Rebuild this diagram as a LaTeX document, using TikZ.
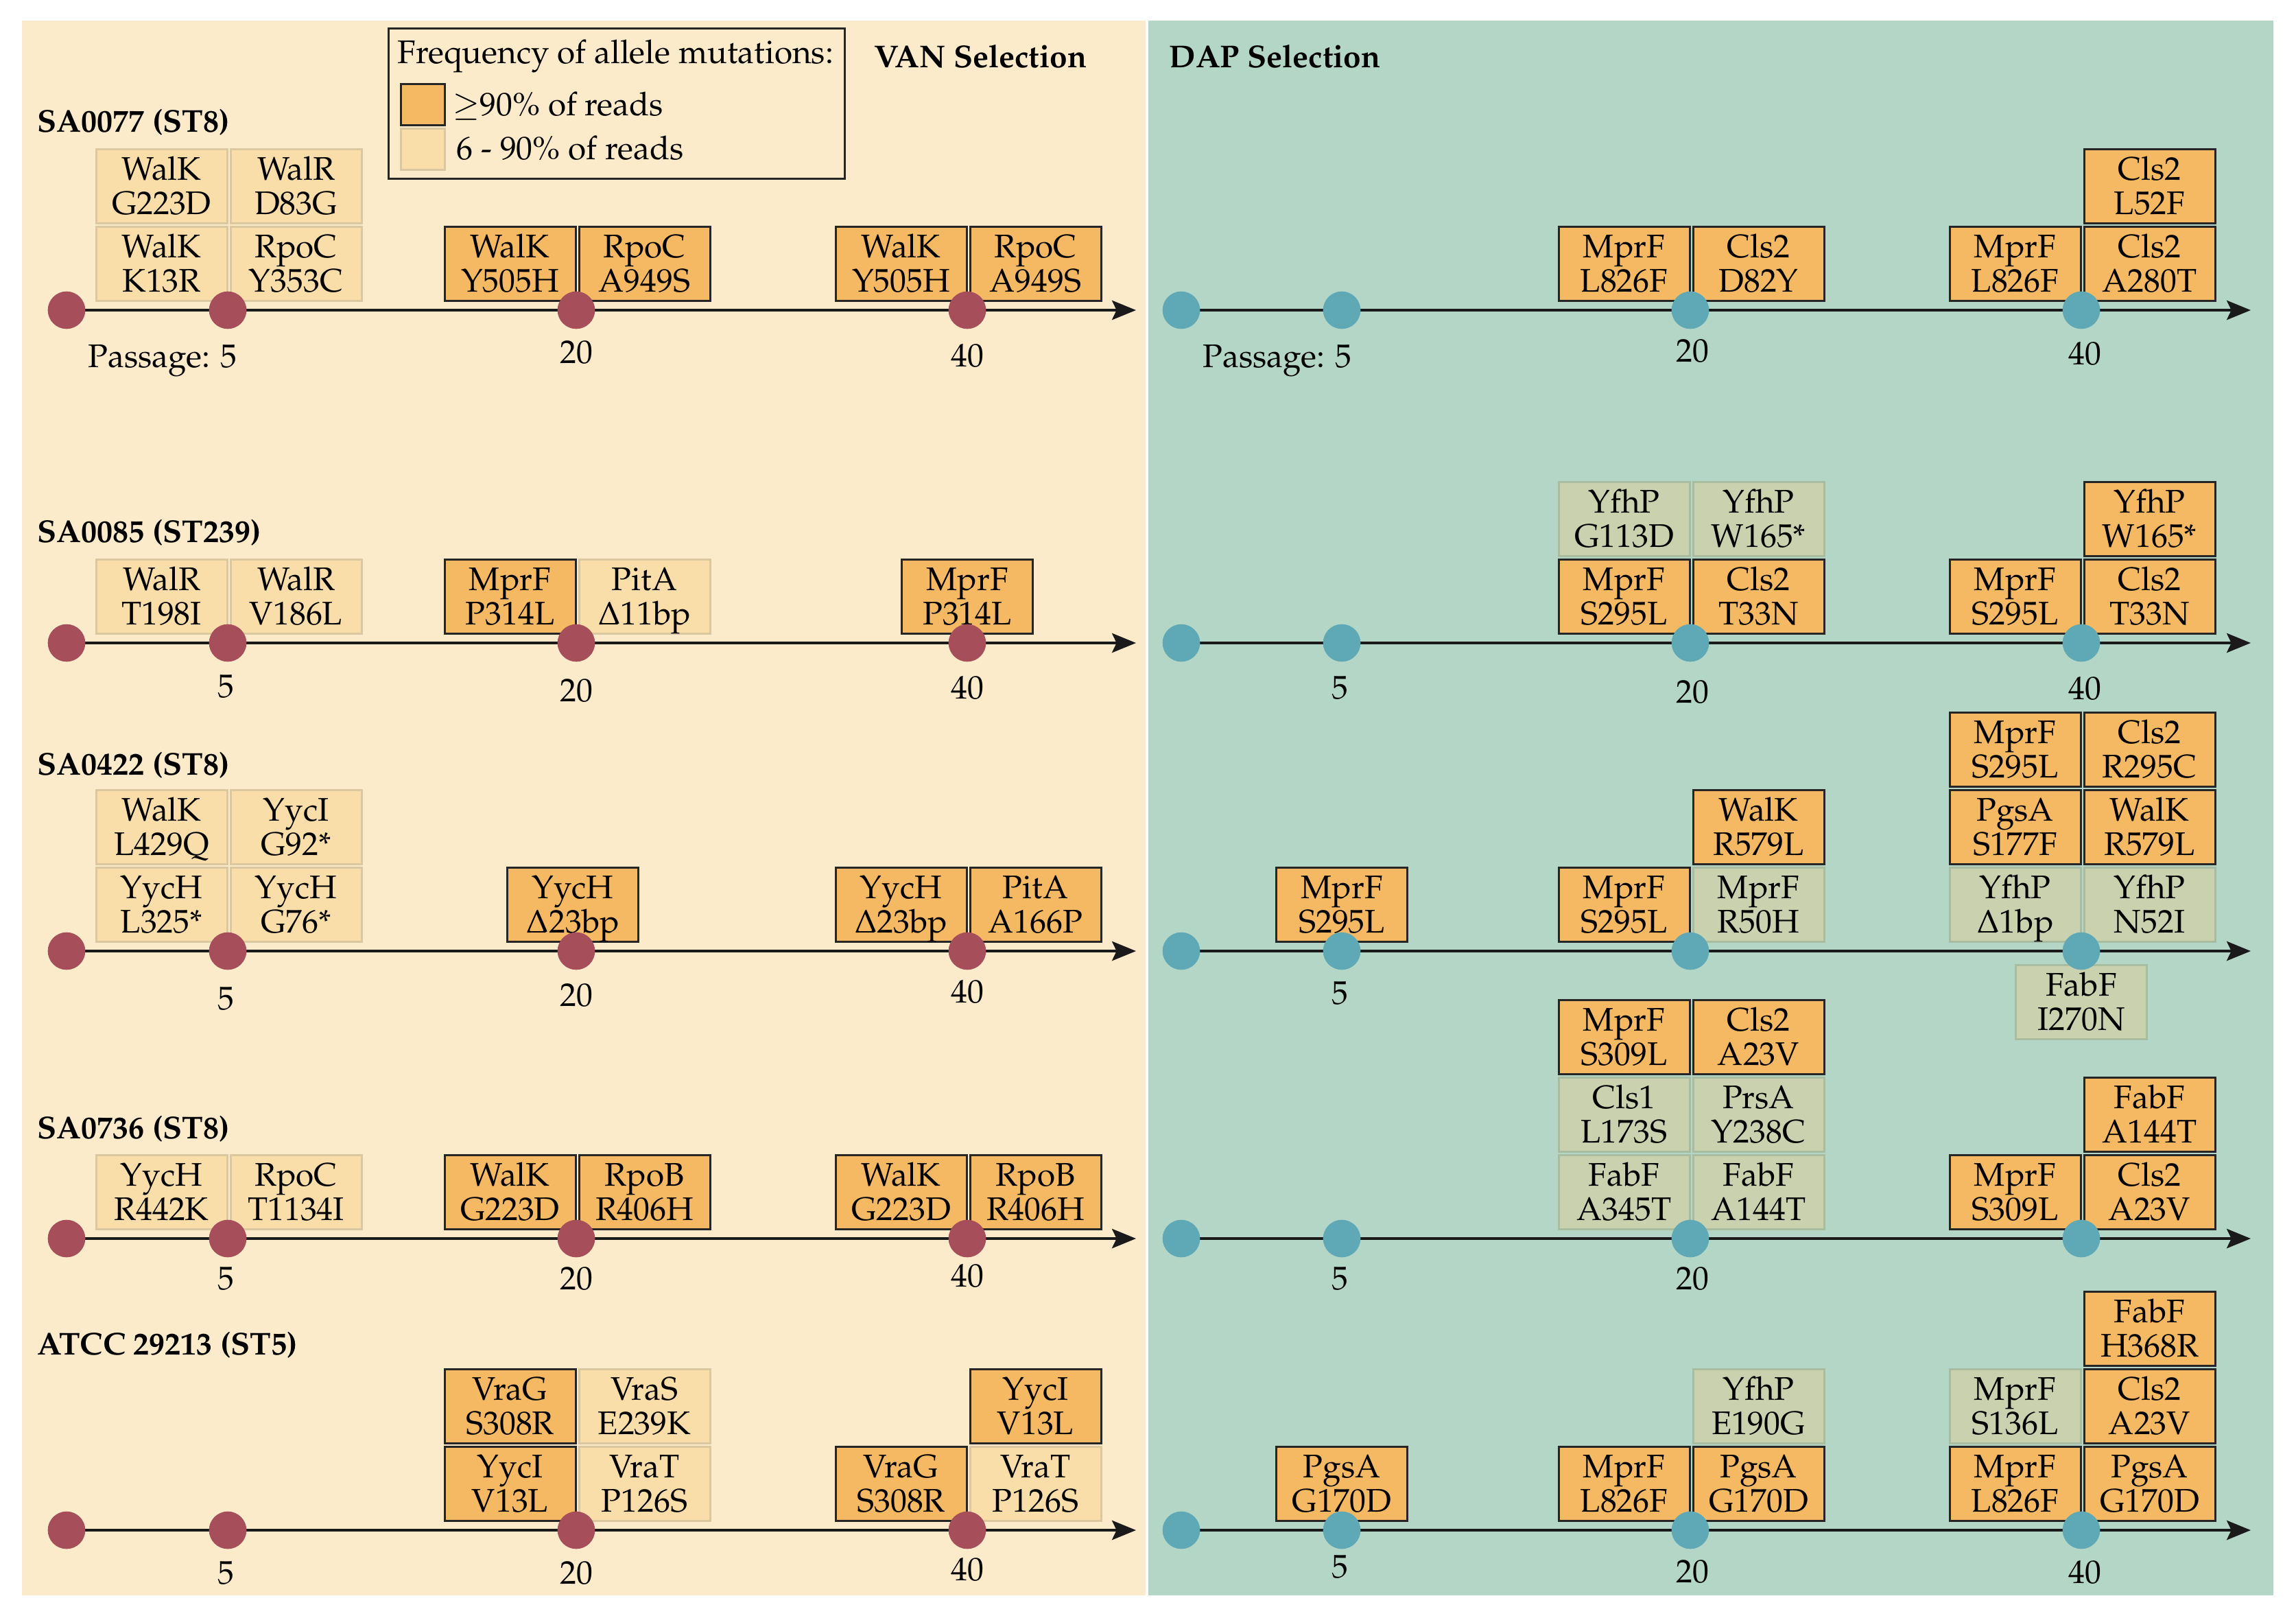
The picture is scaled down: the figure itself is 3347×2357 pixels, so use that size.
\documentclass[tikz,border=0pt]{standalone}
\usepackage[T1]{fontenc}
\usepackage{mathpazo}
\usetikzlibrary{arrows.meta}
\definecolor{vanbg}{HTML}{FCEBCB}
\definecolor{dapbg}{HTML}{B4D6C6}
\definecolor{hiorange}{HTML}{F4B962}
\definecolor{loVfill}{HTML}{F9DEAA}
\definecolor{loVline}{HTML}{DCC8A0}
\definecolor{loDfill}{HTML}{C9D1AE}
\definecolor{loDline}{HTML}{A8BCA0}
\definecolor{dotmaroon}{HTML}{A64F5B}
\definecolor{dotteal}{HTML}{5FA9B6}
\definecolor{boxline}{HTML}{262626}
\definecolor{tlcol}{HTML}{1A1A1A}
\newcommand\mutfont{\fontsize{14.3}{14.8}\selectfont}
\newcommand\numfont{\fontsize{14.3}{16}\selectfont}
\newcommand\headfont{\fontsize{13.8}{16}\selectfont\bfseries}
\newcommand\mstrut{\rule[-1pt]{0pt}{11.8pt}}
\newcommand\mt[2]{\mstrut\smash{#1}\\\mstrut\smash{#2}}
\begin{document}
\begin{tikzpicture}[x=0.3pt,y=-0.3pt,
  mbox/.style={minimum width=57.3pt, minimum height=32.4pt, inner sep=0pt, outer sep=0pt, align=center, font=\mutfont, line width=0.9pt},
  hi/.style={mbox, draw=boxline, fill=hiorange},
  loV/.style={mbox, draw=loVline, fill=loVfill},
  loD/.style={mbox, draw=loDline, fill=loDfill},
  dotV/.style={circle, fill=dotmaroon, minimum size=16.4pt, inner sep=0pt},
  dotD/.style={circle, fill=dotteal, minimum size=16.4pt, inner sep=0pt},
  tl/.style={line width=1.1pt, draw=tlcol, -{Stealth[length=10.5pt,width=8.5pt,inset=2pt]}},
  num/.style={font=\numfont, inner sep=0pt},
  head/.style={font=\headfont, inner sep=0pt, anchor=west},
  legtxt/.style={font=\mutfont, inner sep=0pt, anchor=base west}]
\useasboundingbox (0,0) rectangle (3347,2357);
\fill[white] (0,0) rectangle (3347,2357);
\fill[vanbg] (32,30) rectangle (1670,2325);
\fill[dapbg] (1674,30) rectangle (3314,2325);

% legend
\node[draw=boxline, line width=0.9pt, fill=vanbg, minimum width=199.5pt, minimum height=65.7pt, inner sep=0pt] (legend) at (898.5,150.5) {};
\node[legtxt] (legtitle) at (579,92) {Frequency of allele mutations:};
\node[draw=boxline, line width=0.9pt, fill=hiorange, minimum width=19.2pt, minimum height=18pt, inner sep=0pt] (swhi) at (616,152) {};
\node[draw=loVline, line width=0.9pt, fill=loVfill, minimum width=19.2pt, minimum height=18pt, inner sep=0pt] (swlo) at (616,217) {};
\node[legtxt] (leghi) at (659,168) {$\geq$90\% of reads};
\node[legtxt] (leglo) at (665,232) {6 - 90\% of reads};

% titles
\node[head] (vantitle) at (1274,82) {VAN Selection};
\node[head] (daptitle) at (1704,82) {DAP Selection};
\node[head] (s1) at (54,178) {SA0077 (ST8)};
\node[head] (s2) at (54,776) {SA0085 (ST239)};
\node[head] (s3) at (54,1115) {SA0422 (ST8)};
\node[head] (s4) at (54,1645) {SA0736 (ST8)};
\node[head] (s5) at (54,1960) {ATCC 29213 (ST5)};

% ---------- VAN boxes ----------
\node[loV] (a1) at (235.5,384) {\mt{WalK}{K13R}};
\node[loV] (a2) at (431.5,384) {\mt{RpoC}{Y353C}};
\node[loV] (a3) at (235.5,271) {\mt{WalK}{G223D}};
\node[loV] (a4) at (431.5,271) {\mt{WalR}{D83G}};
\node[hi] (a5) at (743.5,384) {\mt{WalK}{Y505H}};
\node[hi] (a6) at (939.5,384) {\mt{RpoC}{A949S}};
\node[hi] (a7) at (1313.5,384) {\mt{WalK}{Y505H}};
\node[hi] (a8) at (1509.5,384) {\mt{RpoC}{A949S}};

\node[loV] (b1) at (235.5,869) {\mt{WalR}{T198I}};
\node[loV] (b2) at (431.5,869) {\mt{WalR}{V186L}};
\node[hi] (b3) at (743.5,869) {\mt{MprF}{P314L}};
\node[loV] (b4) at (939.5,869) {\mt{PitA}{$\Delta$11bp}};
\node[hi] (b5) at (1410,869) {\mt{MprF}{P314L}};

\node[loV] (c1) at (235.5,1318) {\mt{YycH}{L325*}};
\node[loV] (c2) at (431.5,1318) {\mt{YycH}{G76*}};
\node[loV] (c3) at (235.5,1205) {\mt{WalK}{L429Q}};
\node[loV] (c4) at (431.5,1205) {\mt{YycI}{G92*}};
\node[hi] (c5) at (835,1318) {\mt{YycH}{$\Delta$23bp}};
\node[hi] (c6) at (1313.5,1318) {\mt{YycH}{$\Delta$23bp}};
\node[hi] (c7) at (1509.5,1318) {\mt{PitA}{A166P}};

\node[loV] (e1) at (235.5,1737) {\mt{YycH}{R442K}};
\node[loV] (e2) at (431.5,1737) {\mt{RpoC}{T1134I}};
\node[hi] (e3) at (743.5,1737) {\mt{WalK}{G223D}};
\node[hi] (e4) at (939.5,1737) {\mt{RpoB}{R406H}};
\node[hi] (e5) at (1313.5,1737) {\mt{WalK}{G223D}};
\node[hi] (e6) at (1509.5,1737) {\mt{RpoB}{R406H}};

\node[hi] (f1) at (743.5,2162) {\mt{YycI}{V13L}};
\node[loV] (f2) at (939.5,2162) {\mt{VraT}{P126S}};
\node[hi] (f3) at (743.5,2049) {\mt{VraG}{S308R}};
\node[loV] (f4) at (939.5,2049) {\mt{VraS}{E239K}};
\node[hi] (f5) at (1313.5,2162) {\mt{VraG}{S308R}};
\node[loV] (f6) at (1509.5,2162) {\mt{VraT}{P126S}};
\node[hi] (f7) at (1509.5,2049) {\mt{YycI}{V13L}};

% ---------- DAP boxes ----------
\node[hi] (g1) at (2367.5,384) {\mt{MprF}{L826F}};
\node[hi] (g2) at (2563.5,384) {\mt{Cls2}{D82Y}};
\node[hi] (g3) at (2937.5,384) {\mt{MprF}{L826F}};
\node[hi] (g4) at (3133.5,384) {\mt{Cls2}{A280T}};
\node[hi] (g5) at (3133.5,271) {\mt{Cls2}{L52F}};

\node[hi] (h1) at (2367.5,869) {\mt{MprF}{S295L}};
\node[hi] (h2) at (2563.5,869) {\mt{Cls2}{T33N}};
\node[loD] (h3) at (2367.5,756) {\mt{YfhP}{G113D}};
\node[loD] (h4) at (2563.5,756) {\mt{YfhP}{W165*}};
\node[hi] (h5) at (2937.5,869) {\mt{MprF}{S295L}};
\node[hi] (h6) at (3133.5,869) {\mt{Cls2}{T33N}};
\node[hi] (h7) at (3133.5,756) {\mt{YfhP}{W165*}};

\node[hi] (i1) at (1956,1318) {\mt{MprF}{S295L}};
\node[hi] (i2) at (2367.5,1318) {\mt{MprF}{S295L}};
\node[loD] (i3) at (2563.5,1318) {\mt{MprF}{R50H}};
\node[hi] (i4) at (2563.5,1205) {\mt{WalK}{R579L}};
\node[loD] (i5) at (2937.5,1318) {\mt{YfhP}{$\Delta$1bp}};
\node[loD] (i6) at (3133.5,1318) {\mt{YfhP}{N52I}};
\node[hi] (i7) at (2937.5,1205) {\mt{PgsA}{S177F}};
\node[hi] (i8) at (3133.5,1205) {\mt{WalK}{R579L}};
\node[hi] (i9) at (2937.5,1092) {\mt{MprF}{S295L}};
\node[hi] (i10) at (3133.5,1092) {\mt{Cls2}{R295C}};
\node[loD] (i11) at (3034,1460) {\mt{FabF}{I270N}};

\node[loD] (j1) at (2367.5,1737) {\mt{FabF}{A345T}};
\node[loD] (j2) at (2563.5,1737) {\mt{FabF}{A144T}};
\node[loD] (j3) at (2367.5,1624) {\mt{Cls1}{L173S}};
\node[loD] (j4) at (2563.5,1624) {\mt{PrsA}{Y238C}};
\node[hi] (j5) at (2367.5,1511) {\mt{MprF}{S309L}};
\node[hi] (j6) at (2563.5,1511) {\mt{Cls2}{A23V}};
\node[hi] (j7) at (2937.5,1737) {\mt{MprF}{S309L}};
\node[hi] (j8) at (3133.5,1737) {\mt{Cls2}{A23V}};
\node[hi] (j9) at (3133.5,1624) {\mt{FabF}{A144T}};

\node[hi] (k1) at (1956,2162) {\mt{PgsA}{G170D}};
\node[hi] (k2) at (2367.5,2162) {\mt{MprF}{L826F}};
\node[hi] (k3) at (2563.5,2162) {\mt{PgsA}{G170D}};
\node[loD] (k4) at (2563.5,2049) {\mt{YfhP}{E190G}};
\node[hi] (k5) at (2937.5,2162) {\mt{MprF}{L826F}};
\node[hi] (k6) at (3133.5,2162) {\mt{PgsA}{G170D}};
\node[loD] (k7) at (2937.5,2049) {\mt{MprF}{S136L}};
\node[hi] (k8) at (3133.5,2049) {\mt{Cls2}{A23V}};
\node[hi] (k9) at (3133.5,1936) {\mt{FabF}{H368R}};

% ---------- timelines and dots ----------
\foreach \r/\t in {1/452,2/937,3/1386,4/1805,5/2230}{
  \coordinate (vs\r) at (97,\t);
  \coordinate (ve\r) at (1656,\t);
  \coordinate (ds\r) at (1722,\t);
  \coordinate (de\r) at (3281,\t);
  \draw[tl] (vs\r) -- (ve\r);
  \draw[tl] (ds\r) -- (de\r);
  \node[dotV] (v\r p0) at (97,\t) {};
  \node[dotV] (v\r p5) at (332,\t) {};
  \node[dotV] (v\r p20) at (840,\t) {};
  \node[dotV] (v\r p40) at (1410,\t) {};
  \node[dotD] (d\r p0) at (1722,\t) {};
  \node[dotD] (d\r p5) at (1956,\t) {};
  \node[dotD] (d\r p20) at (2464,\t) {};
  \node[dotD] (d\r p40) at (3034,\t) {};
}

% ---------- passage labels ----------
\node[font=\numfont, inner sep=0pt, anchor=base east] (pv) at (346,535) {Passage: 5};
\node[num] (n1v20) at (840,513) {20};
\node[num] (n1v40) at (1410,518) {40};
\node[font=\numfont, inner sep=0pt, anchor=base east] (pd) at (1971,535) {Passage: 5};
\node[num] (n1d20) at (2467,511) {20};
\node[num] (n1d40) at (3039,515) {40};

\node[num] (n2v5) at (329,1000) {5};
\node[num] (n2v20) at (840,1006) {20};
\node[num] (n2v40) at (1410,1002) {40};
\node[num] (n2d5) at (1953,1002) {5};
\node[num] (n2d20) at (2467,1008) {20};
\node[num] (n2d40) at (3039,1003) {40};

\node[num] (n3v5) at (329,1455) {5};
\node[num] (n3v20) at (840,1450) {20};
\node[num] (n3v40) at (1410,1445) {40};
\node[num] (n3d5) at (1953,1447) {5};

\node[num] (n4v5) at (329,1863) {5};
\node[num] (n4v20) at (840,1863) {20};
\node[num] (n4v40) at (1410,1859) {40};
\node[num] (n4d5) at (1953,1863) {5};
\node[num] (n4d20) at (2467,1863) {20};

\node[num] (n5v5) at (329,2292) {5};
\node[num] (n5v20) at (840,2292) {20};
\node[num] (n5v40) at (1410,2287) {40};
\node[num] (n5d5) at (1953,2283) {5};
\node[num] (n5d20) at (2467,2290) {20};
\node[num] (n5d40) at (3039,2291) {40};
\end{tikzpicture}
\end{document}
